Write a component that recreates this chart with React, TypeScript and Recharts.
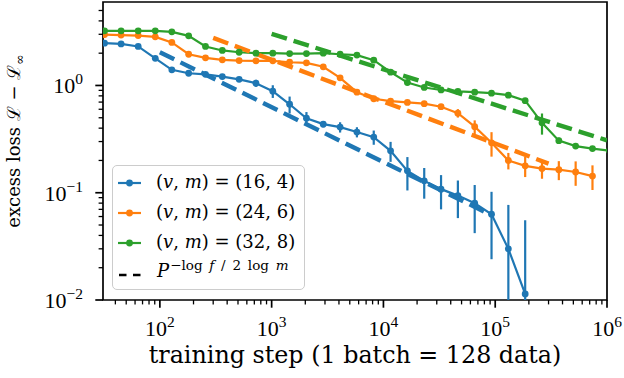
import React from 'react';
import { LineChart, Line, XAxis, YAxis, ErrorBar, ReferenceArea } from 'recharts';

// training steps (checkpoints)
const steps = [32, 45, 64, 91, 128, 181, 256, 362, 512, 724, 1024, 1448, 2048, 2896, 4096, 5793, 8192, 11585, 16384, 23170, 32768, 46341, 65536, 92682, 131072, 185364, 262144, 370728, 524288, 741455, 1048576];

// (v,m) = (16,4)
const loss16 = [2.48, 2.44, 2.31, 1.79, 1.4, 1.3, 1.27, 1.21, 1.14, 1.05, 0.885, 0.668, 0.495, 0.436, 0.409, 0.368, 0.33, 0.246, 0.16, 0.129, 0.108, 0.094, 0.08, 0.063, 0.03, 0.0114];
const err16 = [0, 0, 0, 0, 0, 0, 0, 0, 0, 0.08, 0.12, 0.12, 0.07, 0.03, 0.045, 0.04, 0.05, 0.052, 0.055, 0.041, 0.038, 0.036, 0.038, 0.039, 0.047, 0.044];

// (v,m) = (24,6)
const loss24 = [2.98, 2.95, 2.92, 2.84, 2.52, 1.955, 1.81, 1.734, 1.708, 1.697, 1.697, 1.647, 1.626, 1.493, 1.179, 0.866, 0.752, 0.715, 0.695, 0.676, 0.634, 0.552, 0.413, 0.292, 0.2, 0.178, 0.168, 0.164, 0.156, 0.143];
const err24 = [0, 0, 0, 0, 0, 0, 0, 0, 0, 0, 0, 0, 0, 0, 0.04, 0.03, 0.02, 0.02, 0.02, 0.02, 0.02, 0.05, 0.06, 0.075, 0.035, 0.038, 0.033, 0.033, 0.04, 0.037];

// (v,m) = (32,8)
const loss32 = [3.23, 3.23, 3.23, 3.23, 3.16, 2.9, 2.31, 2.12, 2.04, 2.0, 2.0, 1.985, 1.985, 2.0, 1.955, 1.92, 1.72, 1.33, 1.066, 0.958, 0.908, 0.88, 0.866, 0.848, 0.812, 0.721, 0.448, 0.306, 0.272, 0.258, 0.247];
const err32 = [0, 0, 0, 0, 0, 0, 0, 0, 0, 0, 0, 0, 0, 0, 0, 0, 0, 0, 0, 0, 0, 0, 0, 0, 0, 0.03, 0.1, 0.02, 0, 0, 0];

// power-law guides P^{-log f / 2 log m} (end points)
const fit16X = [100, 92000];
const fit16Y = [2.04, 0.062];
const fit24X = [300, 300000];
const fit24Y = [2.78, 0.187];
const fit32X = [1000, 1000000];
const fit32Y = [3.03, 0.308];

const vValues = [16, 24, 32];
const mValues = [4, 6, 8];
const colors = ['#1f77b4', '#ff7f0e', '#2ca02c'];

const xMajorTicks = [1e2, 1e3, 1e4, 1e5, 1e6];
const xMinorTicks = [40, 50, 60, 70, 80, 90, 200, 300, 400, 500, 600, 700, 800, 900, 2000, 3000, 4000, 5000, 6000, 7000, 8000, 9000, 20000, 30000, 40000, 50000, 60000, 70000, 80000, 90000, 200000, 300000, 400000, 500000, 600000, 700000, 800000, 900000];
const yMajorTicks = [0.01, 0.1, 1];
const yMinorTicks = [0.02, 0.03, 0.04, 0.05, 0.06, 0.07, 0.08, 0.09, 0.2, 0.3, 0.4, 0.5, 0.6, 0.7, 0.8, 0.9, 2, 3, 4, 5];

const X_DOMAIN: [number, number] = [31, 1e6];
const Y_DOMAIN: [number, number] = [0.01, 6];

const xLabel = 'training step (1 batch = 128 data)';

function buildSeries(loss: number[], err: number[]) {
  return loss.map((v, i) => {
    const e = err[i] || 0;
    return { x: steps[i], y: v, err: [Math.min(e, v - Y_DOMAIN[0]), e] };
  });
}
function buildFit(xs: number[], ys: number[]) {
  return xs.map((x, i) => ({ x, y: ys[i] }));
}

const series = [
  buildSeries(loss16, err16),
  buildSeries(loss24, err24),
  buildSeries(loss32, err32),
];
const fits = [buildFit(fit16X, fit16Y), buildFit(fit24X, fit24Y), buildFit(fit32X, fit32Y)];

const isMajor = (v: number) => Math.abs(Math.log10(v) - Math.round(Math.log10(v))) < 1e-6;
const expText = (v: number) => {
  const e = Math.round(Math.log10(v));
  return e < 0 ? '\u2212' + String(-e) : String(e);
};

const TICK_FONT = 'Liberation Serif';
const TEXT_FONT = 'DejaVu Serif';

function XTick(props: any) {
  const { x, y, payload } = props;
  const v = payload.value;
  const major = isMajor(v);
  return (
    <g>
      <line x1={x} x2={x} y1={y} y2={y + (major ? 7.7 : 4.4)} stroke="#000" strokeWidth={major ? 1.7 : 1.3} />
      {major && (
        <text x={x} y={y + 36} textAnchor="middle" fontFamily={TICK_FONT} fontSize={22} fill="#000">
          10<tspan dy={-9} fontSize={15.5}>{expText(v)}</tspan>
        </text>
      )}
    </g>
  );
}

function YTick(props: any) {
  const { x, y, payload } = props;
  const v = payload.value;
  const major = isMajor(v);
  return (
    <g>
      <line x1={x} x2={x - (major ? 7.7 : 4.4)} y1={y} y2={y} stroke="#000" strokeWidth={major ? 1.7 : 1.3} />
      {major && (
        <text x={x - 20} y={y + 8} textAnchor="end" fontFamily={TICK_FONT} fontSize={22} fill="#000">
          10<tspan dy={-9} fontSize={15.5}>{expText(v)}</tspan>
        </text>
      )}
    </g>
  );
}

function LegendBox() {
  const rowTop = (i: number) => 17 + 30 * i;
  return (
    <div
      style={{
        position: 'absolute',
        left: 112,
        top: 165,
        width: 193,
        height: 125,
        boxSizing: 'border-box',
        border: '1.3px solid #cccccc',
        borderRadius: 5,
        background: 'rgba(255,255,255,0.8)',
        fontFamily: TEXT_FONT,
        fontSize: 18,
        color: '#000',
      }}
    >
      {vValues.map((v, i) => (
        <React.Fragment key={i}>
          <svg style={{ position: 'absolute', left: 5, top: rowTop(i) - 6 }} width={23} height={12}>
            <line x1={0} x2={23} y1={6} y2={6} stroke={colors[i]} strokeWidth={2.2} />
            <circle cx={11.5} cy={6} r={3.4} fill={colors[i]} />
          </svg>
          <div style={{ position: 'absolute', left: 43, top: rowTop(i) - 13, height: 24, lineHeight: '24px', whiteSpace: 'nowrap' }}>
            (<i>v</i>, <i>m</i>) = ({v}, {mValues[i]})
          </div>
        </React.Fragment>
      ))}
      <svg style={{ position: 'absolute', left: 6, top: rowTop(3) - 6 + 2 }} width={23} height={12}>
        <line x1={0} x2={22} y1={6} y2={6} stroke="#000" strokeWidth={2.4} strokeDasharray="7.5 6.5" />
      </svg>
      <div style={{ position: 'absolute', left: 44, top: rowTop(3) - 14, height: 24, lineHeight: '24px', whiteSpace: 'nowrap' }}>
        <i>P</i>
        <span style={{ fontSize: 13.5, position: 'relative', top: -7, wordSpacing: 2.5, marginLeft: 1 }}>
          {'\u2212log '}<i>f</i>{' / 2 log '}<i>m</i>
        </span>
      </div>
    </div>
  );
}

export default function App() {
  return (
    <div style={{ position: 'absolute', left: 0, top: 0, width: 624, height: 378, background: '#fff' }}>
      <LineChart width={624} height={378} margin={{ top: 2, right: 17, bottom: 0, left: 0 }}>
        <XAxis
          dataKey="x"
          type="number"
          scale="log"
          domain={X_DOMAIN}
          allowDataOverflow
          ticks={[...xMajorTicks, ...xMinorTicks].sort((a, b) => a - b)}
          interval={0}
          tick={(p: any) => <XTick {...p} />}
          tickLine={false}
          axisLine={false}
          tickSize={0}
          tickMargin={0}
          height={78}
        />
        <YAxis
          type="number"
          scale="log"
          domain={Y_DOMAIN}
          allowDataOverflow
          ticks={[...yMajorTicks, ...yMinorTicks].sort((a, b) => a - b)}
          interval={0}
          tick={(p: any) => <YTick {...p} />}
          tickLine={false}
          axisLine={false}
          tickSize={0}
          tickMargin={0}
          width={103}
        />
        {series.map((d, i) => (
          <Line
            key={'s' + i}
            data={d}
            dataKey="y"
            type="linear"
            stroke={colors[i]}
            strokeWidth={2.2}
            dot={{ r: 3.4, fill: colors[i], stroke: colors[i], strokeWidth: 0 }}
            activeDot={false}
            isAnimationActive={false}
          >
            <ErrorBar dataKey="err" direction="y" stroke={colors[i]} strokeWidth={2.2} width={0} />
          </Line>
        ))}
        {fits.map((d, i) => (
          <Line
            key={'f' + i}
            data={d}
            dataKey="y"
            type="linear"
            stroke={colors[i]}
            strokeWidth={4.4}
            strokeDasharray="16 7"
            dot={false}
            activeDot={false}
            isAnimationActive={false}
          />
        ))}
        <ReferenceArea
          x1={X_DOMAIN[0]}
          x2={X_DOMAIN[1]}
          y1={Y_DOMAIN[0]}
          y2={Y_DOMAIN[1]}
          fill="none"
          fillOpacity={0}
          stroke="#000"
          strokeWidth={1.7}
          ifOverflow="visible"
        />
      </LineChart>
      <svg width={624} height={378} style={{ position: 'absolute', left: 0, top: 0, pointerEvents: 'none' }}>
        <text x={355} y={363} textAnchor="middle" fontFamily={TEXT_FONT} fontSize={23.8} fill="#000">
          {xLabel}
        </text>
        <text transform="translate(20,141) rotate(-90)" textAnchor="middle" fontFamily={TEXT_FONT} fontSize={18} fill="#000">
          excess loss {'\u2112 \u2212 \u2112'}
          <tspan dy={4} fontSize={12.5}>{'\u221E'}</tspan>
        </text>
      </svg>
      <LegendBox />
    </div>
  );
}
